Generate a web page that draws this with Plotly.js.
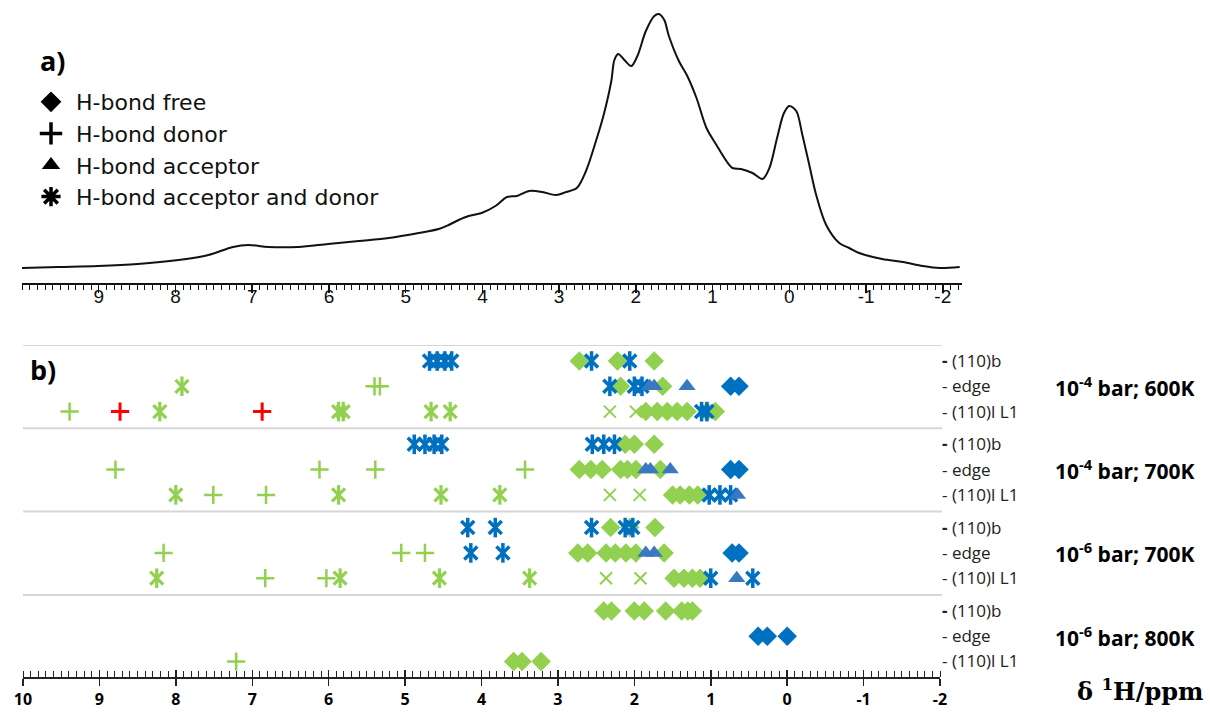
<!DOCTYPE html>
<html><head><meta charset="utf-8">
<script src="https://cdn.plot.ly/plotly-3.0.1.min.js"></script>
<style>html,body{margin:0;padding:0;background:#fff}#chart{width:1210px;height:715px}</style>
</head><body><div id="chart"></div>
<script>
// ---------- a) 1H NMR spectrum (digitised) ----------
const specPpm = [10.0, 9.53, 9.01, 8.49, 7.96, 7.57, 7.25, 7.05, 6.79, 6.40, 6.01, 5.61, 5.22, 4.83, 4.57,
  4.44, 4.31, 4.18, 4.01, 3.83, 3.68, 3.55, 3.39, 3.22, 3.04, 2.91, 2.77, 2.65, 2.52, 2.42, 2.32, 2.28, 2.23,
  2.15, 2.06, 1.98, 1.87, 1.76, 1.70, 1.63, 1.57, 1.44, 1.33, 1.21, 1.08, 0.95, 0.82, 0.74, 0.63, 0.48, 0.35,
  0.26, 0.16, 0.07, 0.00, -0.09, -0.17, -0.26, -0.35, -0.48, -0.65, -0.78, -0.91, -1.21, -1.48, -1.74, -1.96, -2.22];
const specIntensity = [15, 16, 17, 19, 23, 28, 36, 38, 36, 36, 39, 42, 45, 50, 54,
  58, 63, 67, 70, 77, 86, 87, 92, 91, 88, 91, 95, 112, 142, 168, 202, 223, 229,
  223, 217, 227, 252, 267, 269, 263, 247, 222, 207, 185, 155, 138, 122, 115, 114, 110, 104,
  115, 145, 170, 177, 172, 148, 118, 88, 58, 40, 35, 30, 24, 21, 17, 15, 16];

// ---------- b) calculated shifts ----------
const conditionLabels = ['10<sup>-4</sup> bar; 600K', '10<sup>-4</sup> bar; 700K', '10<sup>-6</sup> bar; 700K', '10<sup>-6</sup> bar; 800K'];
const siteLabels = ['<b>-</b> (110)b', '- edge', '- (110)l L1'];
const legendNames = ['H-bond free', 'H-bond donor', 'H-bond acceptor', 'H-bond acceptor and donor'];
const topTickVals = [9, 8, 7, 6, 5, 4, 3, 2, 1, 0, -1, -2];
const topTickText = ['9', '8', '7', '6', '5', '4', '3', '2', '1', '0', '-1', '-2'];
const bottomTickVals = [10, 9, 8, 7, 6, 5, 4, 3, 2, 1, 0, -1, -2];
const bottomTickText = ['10', '9', '8', '7', '6', '5', '4', '3', '2', '1', '0', '-1', '-2'];

// row index: condition*3 + site (site 0 = (110)b, 1 = edge, 2 = (110)l L1)
const freeGreenPpm = [2.72, 2.22, 1.74,  2.18, 1.63,  1.85, 1.70, 1.57, 1.44, 1.31, 1.05, 0.94,
  2.12, 2.00, 1.74,  2.72, 2.57, 2.42, 2.18, 2.09, 1.98, 1.66,  1.50, 1.40, 1.28, 1.17,
  2.31, 2.06, 1.73,  2.74, 2.61, 2.37, 2.25, 2.11, 1.98, 1.61,  1.48, 1.35, 1.24, 1.14,
  2.40, 2.30, 2.00, 1.87, 1.59, 1.38, 1.30, 1.24,  3.58, 3.47, 3.22];
const freeGreenRow = [0, 0, 0,  1, 1,  2, 2, 2, 2, 2, 2, 2,
  3, 3, 3,  4, 4, 4, 4, 4, 4, 4,  5, 5, 5, 5,
  6, 6, 6,  7, 7, 7, 7, 7, 7, 7,  8, 8, 8, 8,
  9, 9, 9, 9, 9, 9, 9, 9,  11, 11, 11];
const freeBluePpm = [0.74, 0.63, 0.74, 0.63, 0.72, 0.63, 0.38, 0.26, 0.00];
const freeBlueRow = [1, 1, 4, 4, 7, 7, 10, 10, 10];
const donorGreenPpm = [5.40, 5.33, 9.39, 8.79, 6.12, 5.39, 3.43, 7.51, 6.82, 8.16, 5.05, 4.74, 6.83, 6.03, 7.21];
const donorGreenRow = [1, 1, 2, 4, 4, 4, 4, 5, 5, 7, 7, 7, 8, 8, 11];
const donorRedPpm = [8.73, 6.87];
const donorRedRow = [2, 2];
const acceptorBluePpm = [1.80, 1.74, 1.31, 1.85, 1.79, 1.53, 0.65, 1.85, 1.74, 0.66];
const acceptorBlueRow = [1, 1, 1, 4, 4, 4, 5, 7, 7, 8];
const accDonBluePpm = [4.68, 4.58, 4.48, 4.39, 2.56, 2.06,  2.32, 2.00, 1.90,  1.12, 1.05,
  4.88, 4.74, 4.62, 4.52, 2.55, 2.40, 2.26,  1.02, 0.88, 0.74,
  4.18, 3.82, 2.56, 2.12, 2.02,  4.14, 3.72,  1.00, 0.45];
const accDonBlueRow = [0, 0, 0, 0, 0, 0,  1, 1, 1,  2, 2,
  3, 3, 3, 3, 3, 3, 3,  5, 5, 5,
  6, 6, 6, 6, 6,  7, 7,  8, 8];
const accDonGreenPpm = [7.92, 8.21, 5.87, 5.81, 4.66, 4.41, 8.00, 5.87, 4.53, 3.76, 8.25, 5.85, 4.55, 3.37];
const accDonGreenRow = [1, 2, 2, 2, 2, 2, 5, 5, 5, 5, 8, 8, 8, 8];
const otherGreenPpm = [2.32, 1.98, 2.32, 1.93, 2.37, 1.92];
const otherGreenRow = [2, 2, 5, 5, 8, 8];

// ---------- layout helpers ----------
const W = 1210, H = 715;
const px = v => v / W, py = v => 1 - v / H;
const GREEN = '#92D050', BLUE = '#0070C0', TRI = '#3A78C2', RED = '#FF0000';
const ROW_STEP = 25.3, GROUP_STEP = 83.3, ROW_OFFSET = 16;
const rowY = i => ROW_OFFSET + Math.floor(i / 3) * GROUP_STEP + (i % 3) * ROW_STEP;
const allRows = Array.from({length: 12}, (_, i) => i);

function pts(ppm, rows, symbol, color, size, lw) {
  return {
    type: 'scatter', mode: 'markers', xaxis: 'x2', yaxis: 'y2', showlegend: false, hoverinfo: 'x',
    x: ppm, y: rows.map(rowY), cliponaxis: false,
    marker: {symbol: symbol, size: size, color: color, line: {color: color, width: lw}}
  };
}

const traces = [
  {type: 'scatter', mode: 'lines', x: specPpm, y: specIntensity, xaxis: 'x', yaxis: 'y', showlegend: false,
   line: {color: '#111', width: 2, shape: 'spline', smoothing: 0.9}},
  {type: 'scatter', mode: 'markers', x: [null], y: [null], xaxis: 'x4', yaxis: 'y', showlegend: false},
  pts(freeGreenPpm, freeGreenRow, 'diamond', GREEN, 15, 0),
  pts(donorGreenPpm, donorGreenRow, 'cross-thin', GREEN, 13, 2.5),
  pts(otherGreenPpm, otherGreenRow, 'x-thin', GREEN, 12, 2),
  pts(accDonGreenPpm, accDonGreenRow, 'x-thin', GREEN, 13, 3.2),
  pts(accDonGreenPpm, accDonGreenRow, 'line-ns', GREEN, 14, 3.2),
  pts(freeBluePpm, freeBlueRow, 'diamond', BLUE, 15, 0),
  pts(donorRedPpm, donorRedRow, 'cross-thin', RED, 13, 3),
  pts(accDonBluePpm, accDonBlueRow, 'x-thin', BLUE, 13, 3.5),
  pts(accDonBluePpm, accDonBlueRow, 'line-ns', BLUE, 14, 3.5),
  pts(acceptorBluePpm, acceptorBlueRow, 'triangle-up', TRI, 15, 0)
];
// legend entries (black symbols)
const legendSymbols = ['diamond', 'cross-thin', 'triangle-up', 'asterisk'];
legendNames.forEach((n, k) => traces.push({
  type: 'scatter', mode: 'markers', x: [null], y: [null], xaxis: 'x3', yaxis: 'y2', name: n,
  marker: {symbol: legendSymbols[k], size: 16, color: '#000', line: {color: '#000', width: k === 0 || k === 2 ? 0 : 3.5}}
}));

const tickFontTop = {family: 'Liberation Sans, Arial, sans-serif', size: 19, color: '#111'};
const tickFontBot = {family: 'Open Sans, Noto Sans, sans-serif', size: 16, color: '#000', weight: 'bold'};

const layout = {
  width: W, height: H, margin: {l: 0, r: 0, t: 0, b: 0},
  paper_bgcolor: '#fff', plot_bgcolor: 'rgba(0,0,0,0)',
  showlegend: true,
  legend: {x: px(26), y: py(81), xanchor: 'left', yanchor: 'top', bgcolor: 'rgba(0,0,0,0)',
    font: {family: 'DejaVu Sans, Noto Sans, sans-serif', size: 22, color: '#111'}, itemwidth: 40, tracegroupgap: 0},
  xaxis: {domain: [px(22), px(962)], range: [10, -2.25], anchor: 'y',
    showgrid: false, zeroline: false, showline: true, linecolor: '#111', linewidth: 2,
    ticks: 'outside', ticklen: 8, tickwidth: 1.5, tickcolor: '#111',
    tickvals: topTickVals, showticklabels: false,
    minor: {ticks: 'outside', dtick: 0.1, tick0: 0, ticklen: 5, tickwidth: 1, tickcolor: '#111', showgrid: false}},
  xaxis4: {overlaying: 'x', range: [10, -2.25], anchor: 'y', showgrid: false, zeroline: false, showline: false,
    ticks: '', tickvals: topTickVals, ticktext: topTickText, tickfont: tickFontTop},
  yaxis: {domain: [py(283), py(3)], range: [0, 280], anchor: 'x', visible: false, fixedrange: true},
  xaxis2: {domain: [px(23), px(940)], range: [10, -2], anchor: 'y2',
    showgrid: false, zeroline: false, showline: true, linecolor: '#222', linewidth: 1.5,
    ticks: 'outside', ticklen: 7, tickwidth: 1.5, tickcolor: '#222',
    tickvals: bottomTickVals, ticktext: bottomTickText, tickfont: tickFontBot,
    minor: {ticks: 'inside', dtick: 0.1, tick0: 0, ticklen: 6, tickwidth: 1, tickcolor: '#222', showgrid: false}},
  xaxis3: {overlaying: 'x2', range: [10, -2], anchor: 'y2', showgrid: false, zeroline: false, showline: false,
    ticks: 'inside', ticklen: 7, tickwidth: 1.5, tickcolor: '#222', tickvals: bottomTickVals, showticklabels: false},
  yaxis2: {domain: [py(677), py(345)], range: [332, 0], anchor: 'free', position: px(941), side: 'right',
    showgrid: false, zeroline: false, showline: false, ticks: '',
    tickvals: allRows.map(rowY), ticktext: allRows.map(i => siteLabels[i % 3]),
    tickfont: {family: 'Open Sans, Noto Sans, sans-serif', size: 17, color: '#222'}},
  shapes: [0, 1, 2, 3].map(g => ({type: 'line', xref: 'paper', yref: 'y2', x0: px(23), x1: px(942),
    y0: g * GROUP_STEP, y1: g * GROUP_STEP, line: {color: '#d6d6d6', width: 2}})),
  annotations: [
    {text: '<b>a)</b>', xref: 'paper', yref: 'paper', x: px(38), y: py(60), xanchor: 'left', yanchor: 'middle',
     showarrow: false, font: {family: 'Open Sans, Noto Sans, sans-serif', size: 27, color: '#000'}},
    {text: '<b>b)</b>', xref: 'paper', yref: 'paper', x: px(28), y: py(369), xanchor: 'left', yanchor: 'middle',
     showarrow: false, font: {family: 'Open Sans, Noto Sans, sans-serif', size: 27, color: '#000'}},
    {text: '<b>δ <sup>1</sup>H/ppm</b>', xref: 'paper', yref: 'paper', x: px(1205), y: py(690), xanchor: 'right', yanchor: 'middle',
     showarrow: false, font: {family: 'DejaVu Serif, Liberation Serif, serif', size: 24, color: '#000'}}
  ].concat(conditionLabels.map((t, g) => ({
    text: '<b>' + t + '</b>', xref: 'paper', yref: 'y2', x: px(1053), y: rowY(g * 3 + 1), xanchor: 'left', yanchor: 'middle',
    showarrow: false, font: {family: 'Open Sans, Noto Sans, sans-serif', size: 21, color: '#000'}})))
};

Plotly.newPlot('chart', traces, layout, {displayModeBar: false, staticPlot: true});
</script>
</body></html>
